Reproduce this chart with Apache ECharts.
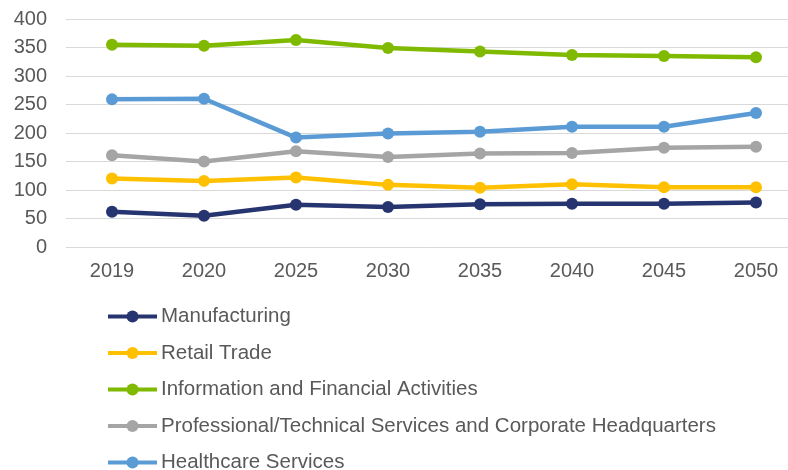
<!DOCTYPE html>
<html><head><meta charset="utf-8">
<script src="https://cdn.jsdelivr.net/npm/echarts@6/dist/echarts.min.js"></script>
<style>html,body{margin:0;padding:0;background:#fff}#c{width:788px;height:470px}</style>
</head><body><div id="c"></div>
<script>
const categories = ['2019','2020','2025','2030','2035','2040','2045','2050'];
const manufacturing = [62, 55, 74, 70, 75, 76, 76, 78];
const retailTrade = [120, 116, 122, 109, 104, 110, 105, 105];
const infoFinancial = [355, 353, 363, 349, 343, 337, 335, 333];
const professional = [161, 150, 168, 158, 164, 165, 174, 176];
const healthcare = [259, 260, 192, 199, 202, 211, 211, 235];
const seriesNames = ['Manufacturing','Retail Trade','Information and Financial Activities','Professional/Technical Services and Corporate Headquarters','Healthcare Services'];
const seriesData = [manufacturing, retailTrade, infoFinancial, professional, healthcare];
const colors = ['#263470','#FFC000','#7FBA00','#A5A5A5','#5B9BD5'];
const font = 'Liberation Sans, Arial, sans-serif';
const chart = echarts.init(document.getElementById('c'));
chart.setOption({
  animation: false,
  color: colors,
  grid: {left: 66, top: 19, width: 736, height: 228, outerBoundsMode: 'none', containLabel: false},
  xAxis: {
    type: 'category', data: categories, boundaryGap: true,
    axisLine: {show: false}, axisTick: {show: false},
    axisLabel: {color: '#595959', fontSize: 20, fontFamily: font, margin: 14}
  },
  yAxis: {
    type: 'value', min: 0, max: 400, interval: 50,
    axisLine: {show: false}, axisTick: {show: false},
    axisLabel: {color: '#595959', fontSize: 20, fontFamily: font, margin: 19},
    splitLine: {lineStyle: {color: '#D9D9D9', width: 1}}
  },
  legend: {
    orient: 'vertical', left: 106, top: 306, height: 220, width: 680,
    padding: 0,
    itemWidth: 49, itemHeight: 15, itemGap: 15.5,
    lineStyle: {width: 4},
    textStyle: {color: '#595959', fontSize: 20.5, fontFamily: font, padding: [0,0,0,-1]},
    data: seriesNames
  },
  series: seriesData.map((d, i) => ({
    name: seriesNames[i], type: 'line', data: d,
    symbol: 'circle', symbolSize: 12,
    lineStyle: {width: 4.5, color: colors[i]},
    itemStyle: {color: colors[i]}
  }))
});
</script></body></html>
